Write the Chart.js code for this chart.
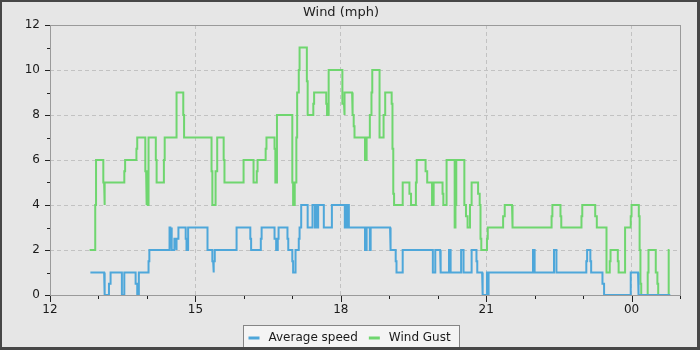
<!DOCTYPE html>
<html>
<head>
<meta charset="utf-8">
<title>Wind</title>
<script src="https://cdn.jsdelivr.net/npm/chart.js@4.4.0/dist/chart.umd.min.js"></script>
<style>
  html, body { margin: 0; padding: 0; background: #e6e6e6; }
  #frame {
    position: absolute; left: 0; top: 0;
    width: 700px; height: 350px; box-sizing: border-box;
    border-style: solid; border-color: #474747; border-width: 2px 3px 3px 2px;
    background: #e6e6e6;
  }
  canvas { display: block; }
</style>
</head>
<body>
<div id="frame"><canvas id="wind" width="695" height="345"></canvas></div>
<script>
// change points: value holds from this time until the next entry
const avgTimes = [
  '12:50', '13:07', '13:08', '13:13', '13:15', '13:29', '13:32', '13:46', '13:48', '13:50',
  '14:02', '14:03', '14:28', '14:29', '14:30', '14:31', '14:34', '14:36', '14:37', '14:39',
  '14:48', '14:49', '14:51', '15:15', '15:21', '15:22', '15:23', '15:24', '15:51', '16:08',
  '16:09', '16:21', '16:22', '16:38', '16:40', '16:42', '16:43', '16:54', '16:55', '17:00',
  '17:01', '17:04', '17:08', '17:09', '17:11', '17:19', '17:25', '17:28', '17:29', '17:30',
  '17:32', '17:39', '17:49', '18:05', '18:06', '18:07', '18:08', '18:10', '18:30', '18:32',
  '18:36', '18:37', '19:01', '19:02', '19:08', '19:09', '19:16', '19:17', '19:54', '19:57',
  '20:03', '20:04', '20:14', '20:16', '20:29', '20:32', '20:42', '20:48', '20:49', '20:55',
  '20:56', '21:01', '21:02', '21:03', '21:58', '22:00', '22:24', '22:27', '23:04', '23:05',
  '23:09', '23:10', '23:24', '23:26', '23:59', '00:08', '00:09', '00:48'
];
const avgValues = [
  1, 0.5, 0, 0.5, 1, 0, 1, 0.5, 0, 1,
  1.5, 2, 3, 2.5, 3, 2, 2.5, 2, 2.5, 3,
  2.5, 2, 3, 2, 1.5, 1, 1.5, 2, 3, 2.5,
  2, 2.5, 3, 2.5, 2, 2.5, 3, 2.5, 2, 1.5,
  1, 2, 2.5, 3, 4, 3, 4, 3, 4, 3,
  4, 3, 4, 3, 4, 3, 4, 3, 2, 3,
  2, 3, 2.5, 2, 1.5, 1, 1.5, 2, 1, 2,
  1.5, 1, 2, 1, 2, 1, 2, 1.5, 1, 0.5,
  0, 1, 0, 1, 2, 1, 2, 1, 1.5, 2,
  1.5, 1, 0.5, 0, 1, 0.5, 0, 0
];

const gustTimes = [
  '12:49', '12:56', '12:57', '13:06', '13:07', '13:08', '13:32', '13:33', '13:47', '13:48',
  '13:58', '13:59', '14:00', '14:01', '14:02', '14:11', '14:12', '14:21', '14:22', '14:36',
  '14:37', '14:45', '14:46', '15:20', '15:21', '15:25', '15:27', '15:35', '15:36', '15:59',
  '16:00', '16:12', '16:16', '16:17', '16:27', '16:28', '16:38', '16:39', '16:41', '17:00',
  '17:01', '17:03', '17:05', '17:06', '17:08', '17:09', '17:18', '17:19', '17:26', '17:27',
  '17:42', '17:43', '17:45', '18:02', '18:04', '18:05', '18:14', '18:15', '18:16', '18:17',
  '18:30', '18:32', '18:36', '18:38', '18:39', '18:48', '18:53', '18:55', '19:03', '19:04',
  '19:05', '19:06', '19:16', '19:17', '19:25', '19:27', '19:33', '19:34', '19:45', '19:47',
  '19:53', '19:55', '20:06', '20:07', '20:11', '20:21', '20:22', '20:23', '20:33', '20:35',
  '20:37', '20:40', '20:42', '20:50', '20:52', '20:53', '20:54', '21:01', '21:02', '21:21',
  '21:23', '21:32', '21:33', '22:21', '22:22', '22:32', '22:33', '22:58', '22:59', '23:15',
  '23:17', '23:29', '23:33', '23:34', '23:43', '23:44', '23:52', '23:59', '00:00', '00:09',
  '00:10', '00:11', '00:12', '00:20', '00:21', '00:30', '00:32', '00:33', '00:46', '00:47'
];
const gustValues = [
  2, 4, 6, 5, 4, 5, 5.5, 6, 6.5, 7,
  5.5, 4, 5.5, 4, 7, 6, 5, 6, 7, 8,
  9, 8, 7, 5.5, 4, 5.5, 7, 6, 5, 5.5,
  6, 5, 5.5, 6, 6.5, 7, 6.5, 5, 8, 5,
  4, 5, 7, 9, 10, 11, 9.5, 8, 8.5, 9,
  8.5, 8, 10, 8.5, 8, 9, 8.5, 8, 7.5, 7,
  6, 7, 8, 9, 10, 7, 8, 9, 8.5, 6.5,
  4.5, 4, 4.5, 5, 4.5, 4, 5, 6, 5.5, 5,
  4, 5, 4.5, 4, 6, 3, 4, 6, 4, 3.5,
  3, 4, 5, 4.5, 4, 2.5, 2, 2.5, 3, 3.5,
  4, 3.5, 3, 3.5, 4, 3.5, 3, 3.5, 4, 3.5,
  3, 1, 1.5, 2, 1.5, 1, 3, 3.5, 4, 3.5,
  2, 0.5, 0, 1, 2, 1, 0.5, 0, 2, 2
];

const xTickHours = [12, 15, 18, 21, 24];
const xTickLabels = ['12', '15', '18', '21', '00'];
const yTickValues = [0, 2, 4, 6, 8, 10, 12];

const BLUE = '#4ea7da';
const GREEN = '#6fd66f';
const FONT = 'DejaVu Sans';

// hours since midnight, running on past 24 after midnight
function toHours(hhmm) {
  let [h, m] = hhmm.split(':').map(Number);
  if (h < 12) h += 24;
  return h + m / 60;
}

// turn change points into a stepped polyline
function stepSeries(times, values) {
  const pts = [];
  times.forEach((t, i) => {
    const x = toHours(t);
    if (i > 0) pts.push({x: x, y: values[i - 1]});
    pts.push({x: x, y: values[i]});
  });
  return pts;
}

const plotFrame = {
  id: 'plotFrame',
  beforeDatasetsDraw(chart) {
    const {ctx, chartArea: a} = chart;
    ctx.save();
    ctx.strokeStyle = '#9a9a9a';
    ctx.lineWidth = 1;
    ctx.strokeRect(a.left + 0.5, a.top + 0.5, a.right - a.left, a.bottom - a.top);
    ctx.restore();
  },
  afterDraw(chart) {
    const {ctx, chartArea: a, scales} = chart;
    ctx.save();
    ctx.strokeStyle = '#222';
    ctx.lineWidth = 1;
    ctx.beginPath();
    for (let v = 0; v <= 12; v++) {
      const y = Math.round(scales.y.getPixelForValue(v)) + 0.5;
      const len = v % 2 === 0 ? 5 : 3;
      ctx.moveTo(a.left - len, y);
      ctx.lineTo(a.left, y);
    }
    for (let h = 12; h <= 25; h++) {
      const x = Math.round(scales.x.getPixelForValue(h)) + 0.5;
      const len = h % 3 === 0 ? 6 : 3;
      ctx.moveTo(x, a.bottom + 1);
      ctx.lineTo(x, a.bottom + 1 + len);
    }
    ctx.stroke();
    ctx.restore();
  }
};

const legendBox = {
  id: 'legendBox',
  afterDraw(chart) {
    const ctx = chart.ctx;
    const sets = chart.data.datasets;
    const padL = 5, padR = 9, mark = 11, gap = 9, spacing = 11;
    ctx.save();
    ctx.font = '12px "' + FONT + '"';
    let w = padL + padR;
    sets.forEach((ds, i) => {
      w += mark + gap + ctx.measureText(ds.label).width + (i ? spacing : 0);
    });
    w = Math.round(w);
    const x0 = Math.round(chart.width / 2 + 1 - w / 2) + 0.5;
    const y0 = 323.5;
    ctx.fillStyle = '#f4f4f4';
    ctx.fillRect(x0, y0, w, 30);
    ctx.strokeStyle = '#858585';
    ctx.lineWidth = 1;
    ctx.strokeRect(x0, y0, w, 30);
    let x = x0 + padL;
    const yc = y0 + 12.5;
    sets.forEach(ds => {
      ctx.strokeStyle = ds.borderColor;
      ctx.lineWidth = 3;
      ctx.beginPath();
      ctx.moveTo(x, yc);
      ctx.lineTo(x + mark, yc);
      ctx.stroke();
      x += mark + gap;
      ctx.fillStyle = '#1a1a1a';
      ctx.textBaseline = 'middle';
      ctx.fillText(ds.label, x, yc);
      x += ctx.measureText(ds.label).width + spacing;
    });
    ctx.restore();
  }
};

const dashed = ctx => '#c2c2c2';

new Chart(document.getElementById('wind'), {
  type: 'line',
  data: {
    datasets: [
      {
        label: 'Average speed',
        data: stepSeries(avgTimes, avgValues),
        borderColor: BLUE,
        backgroundColor: BLUE,
        borderWidth: 2,
        pointRadius: 0,
        fill: false,
        tension: 0,
        borderJoinStyle: 'miter'
      },
      {
        label: 'Wind Gust',
        data: stepSeries(gustTimes, gustValues),
        borderColor: GREEN,
        backgroundColor: GREEN,
        borderWidth: 2,
        pointRadius: 0,
        fill: false,
        tension: 0,
        borderJoinStyle: 'miter'
      }
    ]
  },
  options: {
    responsive: false,
    animation: false,
    layout: { padding: { top: 0, left: 0, right: 17, bottom: 28 } },
    plugins: {
      legend: { display: false },
      tooltip: { enabled: false },
      title: {
        display: true,
        text: 'Wind (mph)',
        color: '#1e1e1e',
        font: { family: FONT, size: 13, weight: 'normal' },
        padding: { top: 2.5, bottom: 4.9 }
      }
    },
    scales: {
      x: {
        type: 'linear',
        min: 12,
        max: 25,
        afterFit: s => { s.height = 24; },
        afterBuildTicks: s => { s.ticks = xTickHours.map(v => ({value: v})); },
        ticks: {
          color: '#1a1a1a',
          font: { family: FONT, size: 12 },
          padding: 8,
          maxRotation: 0,
          autoSkip: false,
          callback: (v) => xTickLabels[xTickHours.indexOf(v)]
        },
        grid: {
          drawTicks: false,
          color: c => (c.tick && c.tick.value === 12) ? 'rgba(0,0,0,0)' : '#c2c2c2',
          lineWidth: 1
        },
        border: { display: false, dash: [4, 3] }
      },
      y: {
        min: 0,
        max: 12,
        afterFit: s => { s.width = 48; },
        afterBuildTicks: s => { s.ticks = yTickValues.map(v => ({value: v})); },
        ticks: {
          color: '#1a1a1a',
          font: { family: FONT, size: 12 },
          padding: 10
        },
        grid: {
          drawTicks: false,
          color: c => (c.tick && (c.tick.value === 0 || c.tick.value === 12)) ? 'rgba(0,0,0,0)' : '#c2c2c2',
          lineWidth: 1
        },
        border: { display: false, dash: [4, 3] }
      }
    }
  },
  plugins: [plotFrame, legendBox]
});
</script>
</body>
</html>
